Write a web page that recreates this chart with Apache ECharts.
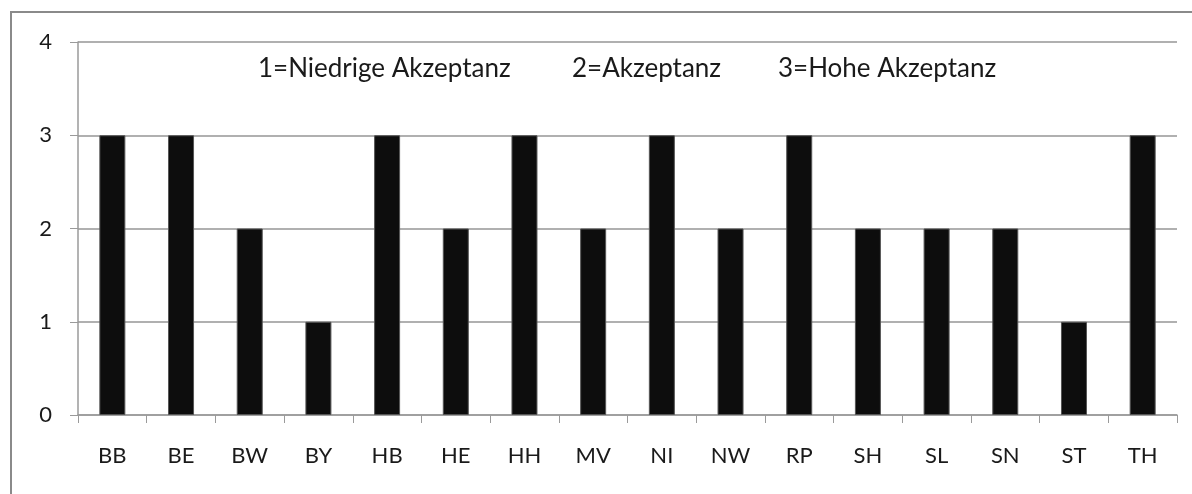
<!DOCTYPE html>
<html>
<head>
<meta charset="utf-8">
<script src="https://cdn.jsdelivr.net/npm/echarts@6/dist/echarts.min.js"></script>
<style>
  html, body { margin: 0; padding: 0; background: #fff; }
  #chart { width: 1192px; height: 494px; }
</style>
</head>
<body>
<div id="chart"></div>
<script>
const categories = ['BB', 'BE', 'BW', 'BY', 'HB', 'HE', 'HH', 'MV', 'NI', 'NW', 'RP', 'SH', 'SL', 'SN', 'ST', 'TH']
const acceptance = [3, 3, 2, 1, 3, 2, 3, 2, 3, 2, 3, 2, 2, 2, 1, 3]
const yTicks = { min: 0, max: 4, interval: 1 }
const notes = ['1=Niedrige Akzeptanz', '2=Akzeptanz', '3=Hohe Akzeptanz']

const font = 'Lato, "Open Sans", sans-serif'
const myChart = echarts.init(document.getElementById('chart'))

// positions of the three key texts above the bars
const noteX = [258, 572, 778]

const option = {
  backgroundColor: '#fff',
  animation: false,
  grid: { left: 78, right: 15, top: 42, bottom: 79 },
  graphic: [
    {
      type: 'rect',
      shape: { x: 11, y: 12, width: 1200, height: 500 },
      style: { fill: 'none', stroke: '#8a8a8a', lineWidth: 2 },
      silent: true
    }
  ].concat(notes.map((t, i) => ({
    type: 'text',
    left: noteX[i],
    top: 56,
    style: { text: t, fill: '#1a1a1a', font: '26px ' + font }
  }))),
  xAxis: {
    type: 'category',
    data: categories,
    boundaryGap: true,
    axisLine: { lineStyle: { color: '#9a9a9a', width: 1.5 } },
    axisTick: { show: true, length: 8, alignWithLabel: false, lineStyle: { color: '#9a9a9a' } },
    axisLabel: { color: '#1a1a1a', fontFamily: font, fontSize: 22, margin: 30 }
  },
  yAxis: {
    type: 'value',
    min: yTicks.min,
    max: yTicks.max,
    interval: yTicks.interval,
    axisLine: { show: true, lineStyle: { color: '#9a9a9a', width: 1.5 } },
    axisTick: { show: true, length: 8, lineStyle: { color: '#9a9a9a' } },
    axisLabel: { color: '#1a1a1a', fontFamily: font, fontSize: 22, margin: 26 },
    splitLine: { show: true, lineStyle: { color: '#b0b0b0', width: 2 } }
  },
  series: [
    {
      type: 'bar',
      data: acceptance,
      barWidth: 26,
      itemStyle: { color: '#0d0d0d', borderColor: '#555', borderWidth: 1 }
    }
  ]
}
myChart.setOption(option)
</script>
</body>
</html>
